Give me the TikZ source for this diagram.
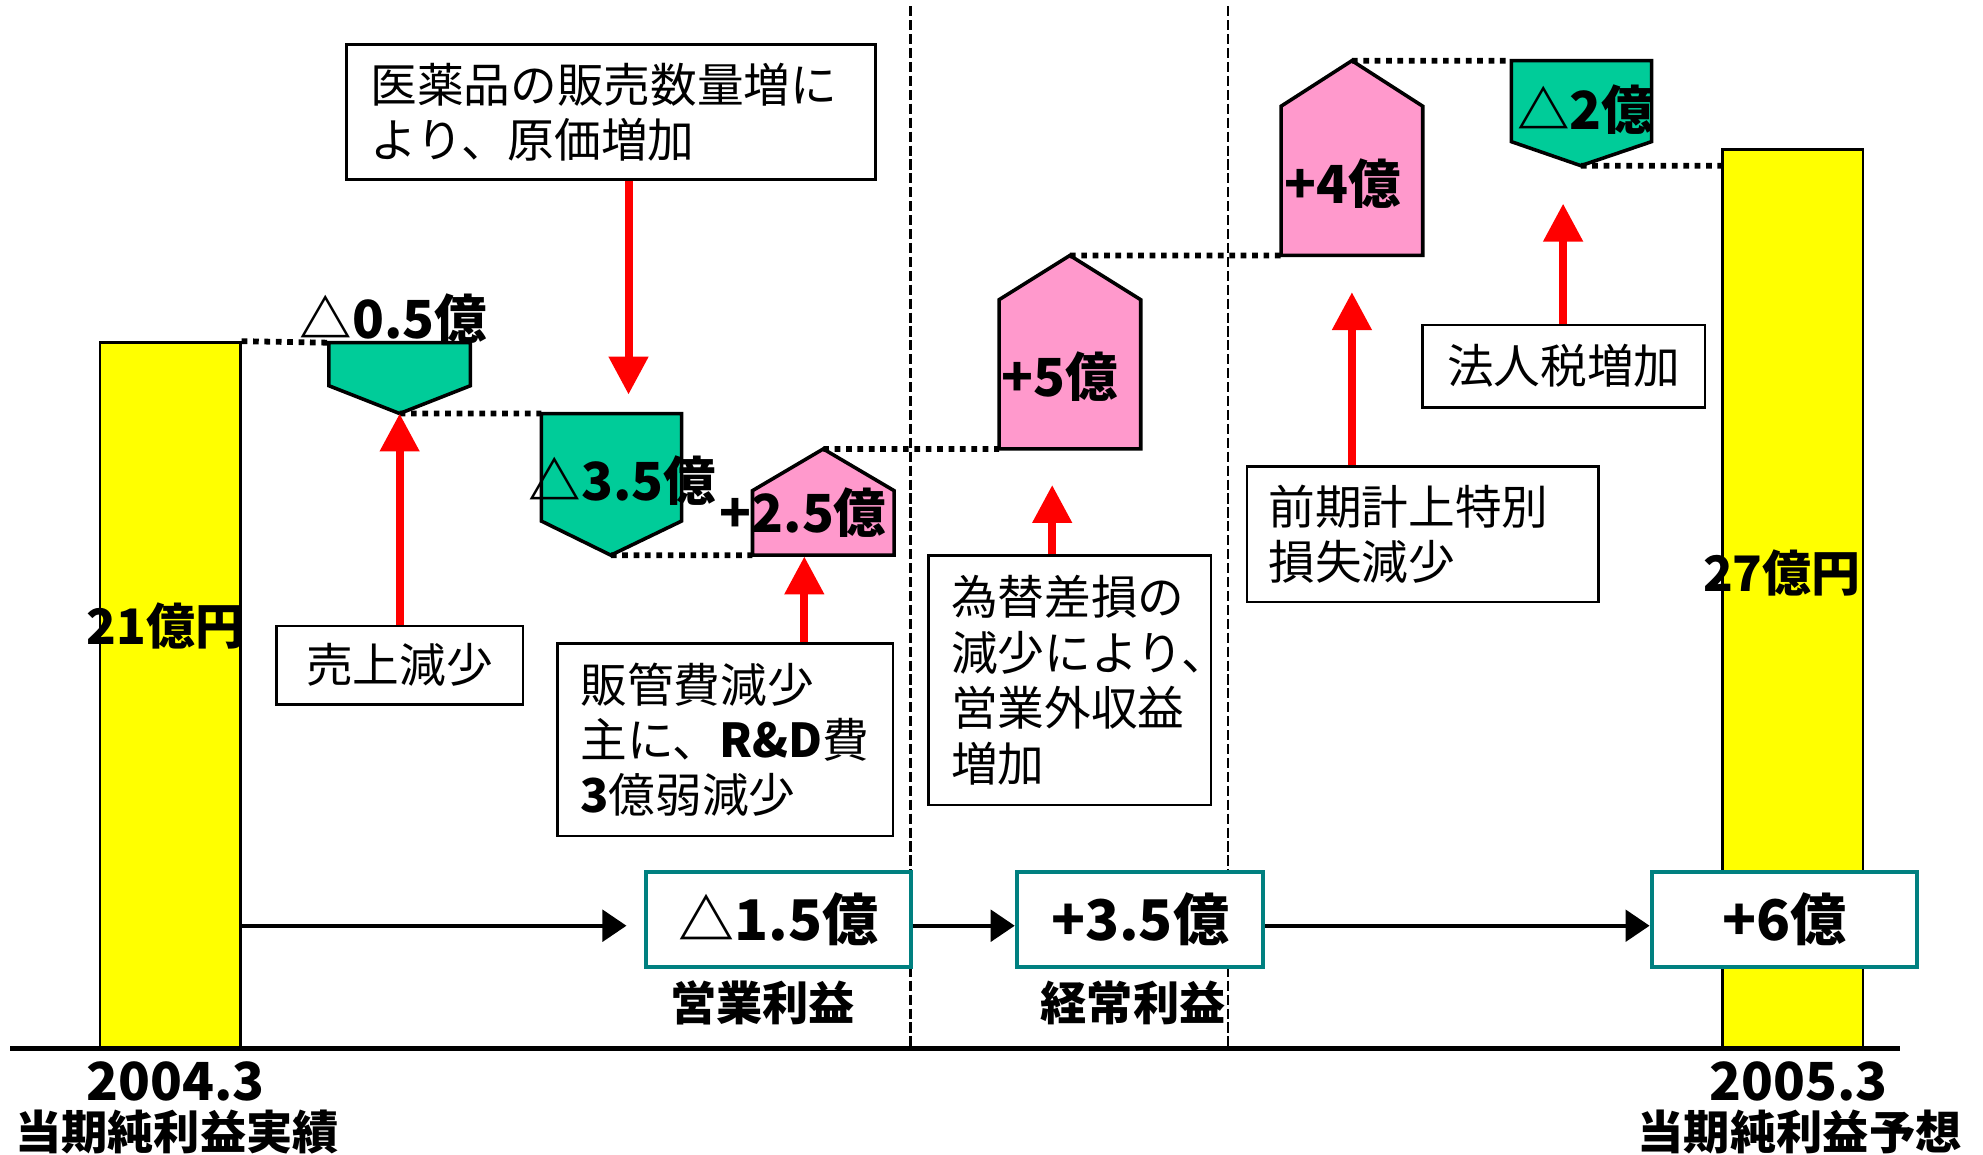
\documentclass[tikz,border=0pt]{standalone}
\usepackage{fontspec}
\setmainfont{Noto Sans CJK JP}
\usetikzlibrary{arrows.meta}
\definecolor{gain}{RGB}{255,153,204}
\definecolor{loss}{RGB}{0,204,153}
\definecolor{result}{RGB}{255,255,0}
\definecolor{frame}{RGB}{0,128,128}
\tikzset{>/.tip={Triangle[width=0.3cm,length=0.3cm]}}
\tikzset{stepline/.style={line width=1.3pt,dash pattern=on 0.045cm off 0.045cm}}
\begin{document}
\begin{tikzpicture}[x=0.01cm,y=-0.01cm,
    box/.style={draw,line width=0.6pt,fill=white,inner ysep=0pt,align=left,font=\fontsize{10.5}{12.3}\selectfont},
    sum/.style={draw=frame,line width=0.9pt,fill=white,minimum height=0.75cm,font=\fontsize{12.6}{14}\selectfont\bfseries},
    num/.style={inner sep=0pt,font=\fontsize{11.8}{14}\selectfont\bfseries},
    tag/.style={inner sep=0pt,font=\fontsize{10.4}{12.3}\selectfont\bfseries},
    bar/.style={draw,line width=0.6pt,fill=result,minimum width=1.11cm,inner sep=0pt},
    push/.style={->,red,line width=0.063cm},
    flow/.style={-{Triangle[width=0.25cm,length=0.19cm]},line width=0.8pt}]
  \useasboundingbox (0,0) rectangle (1568,913);
  \draw[line width=0.5pt,dash pattern=on 0.08cm off 0.03cm] (720,5) -- (720,829) (971,5) -- (971,829);
  % results
  \node[bar,minimum height=5.58cm](bar04) at (134.5,550){};
  \node[bar,minimum height=7.104cm](bar05) at (1417.5,473.8){};
  \node[num,font=\fontsize{11}{13}\selectfont\bfseries](v04) at (131,495){21億円};
  \node[num,font=\fontsize{11}{13}\selectfont\bfseries](v05) at (1409,453){27億円};
  \draw[line width=1pt] (8,829) -- (1502,829);
  % steps
  \draw[line width=0.8pt,fill=loss] (260,271) coordinate (d1a) -- (372,271) -- (372,305) -- (316,327) coordinate (d1) -- (260,305) -- cycle;
  \draw[line width=0.8pt,fill=loss] (428,327) coordinate (d2a) -- (539,327) -- (539,412) -- (483,439) coordinate (d2) -- (428,412) -- cycle;
  \draw[line width=0.8pt,fill=gain] (595,439) coordinate (u1a) -- (707,439) -- (707,388) -- (651,355) coordinate (u1) -- (595,388) -- cycle;
  \draw[line width=0.8pt,fill=gain] (790,355) coordinate (u2a) -- (902,355) -- (902,237) -- (846,202) coordinate (u2) -- (790,237) -- cycle;
  \draw[line width=0.8pt,fill=gain] (1013,202) coordinate (u3a) -- (1125,202) -- (1125,84) -- (1069,48) coordinate (u3) -- (1013,84) -- cycle;
  \draw[line width=0.8pt,fill=loss] (1195,48) coordinate (d3a) -- (1306,48) -- (1306,112) -- (1250,131) coordinate (d3) -- (1195,112) -- cycle;
  \draw[stepline]
    (bar04.north east) -- (d1a)
    (d1) -- (d2a)
    (d2) -- (u1a)
    (u1) -- (u2a)
    (u2) -- (u3a)
    (u3) -- (d3a)
    (d3) -- (bar05.west |- d3);
  \node[num](n1) at (311,252){△0.5億};
  \node[num](n2) at (492,380){△3.5億};
  \node[num](n3) at (635,405){+2.5億};
  \node[num](n4) at (838,298){+5億};
  \node[num](n5) at (1062,145){+4億};
  \node[num](n6) at (1254,87){△2億};
  % reasons
  \node[box,minimum height=1.07cm,text width=3.8cm,inner xsep=0.19cm](genka) at (483,88.5){医薬品の販売数量増に\\より、原価増加};
  \node[box,minimum height=0.62cm,text width=1.6cm,inner xsep=0.175cm,align=center](uriage) at (316,526){売上減少};
  \node[box,minimum height=1.52cm,text width=2.29cm,inner xsep=0.18cm](hankan) at (573.5,585){販管費減少\\主に、\textbf{R\&D}費\\\textbf{3}億弱減少};
  \node[box,minimum height=1.975cm,text width=1.875cm,inner xsep=0.18cm,font=\fontsize{10.5}{12.5}\selectfont](kawase) at (845.8,537.8){為替差損の\\減少により、\\営業外収益\\増加};
  \node[box,minimum height=1.07cm,text width=2.44cm,inner xsep=0.17cm](zenki) at (1125,422.5){前期計上特別\\損失減少};
  \node[box,minimum height=0.65cm,text width=1.87cm,inner xsep=0.18cm,align=center](houjin) at (1236.5,289.5){法人税増加};
  \coordinate (c2) at (497,312);
  \coordinate (c3) at (636,440);
  \coordinate (c4) at (832,383.5);
  \coordinate (c5) at (1069,231);
  \coordinate (c6) at (1236,161);
  \draw[push] (uriage.north -| d1) -- (d1);
  \draw[push] (genka.south -| c2) -- (c2);
  \draw[push] (hankan.north -| c3) -- (c3);
  \draw[push] (kawase.north -| c4) -- (c4);
  \draw[push] (zenki.north -| c5) -- (c5);
  \draw[push] (houjin.north -| c6) -- (c6);
  % totals
  \node[sum,minimum width=2.09cm](op) at (615.5,727){△1.5億};
  \node[sum,minimum width=1.95cm](ord) at (901.5,727){+3.5億};
  \node[sum,minimum width=2.10cm](net) at (1411,727){+6億};
  \coordinate (lvl) at (0,732);
  \draw[flow,shorten >=0.14cm] (bar04.east |- lvl) -- (op.west |- lvl);
  \draw[flow] (op.east |- lvl) -- (ord.west |- lvl);
  \draw[flow] (ord.east |- lvl) -- (net.west |- lvl);
  \node[tag](t1) at (603,793){営業利益};
  \node[tag](t2) at (896,793){経常利益};
  \node[num](y04) at (139,855){2004.3};
  \node[tag](k04) at (140,895){当期純利益実績};
  \node[num](y05) at (1422,855){2005.3};
  \node[tag](k05) at (1423,895){当期純利益予想};
\end{tikzpicture}
\end{document}
